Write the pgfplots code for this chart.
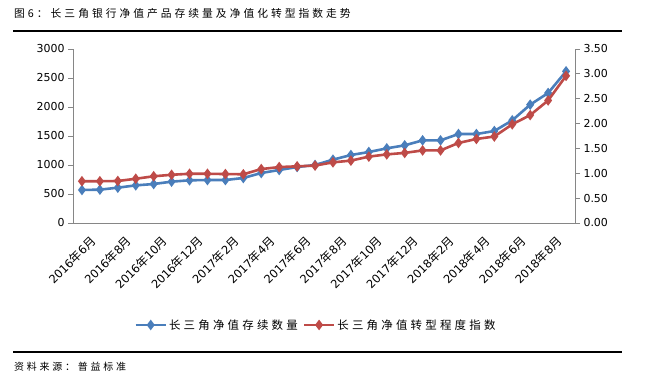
\documentclass[border=0pt]{standalone}
\usepackage{fontspec}
\setmainfont{DejaVu Sans}
\newfontfamily\cjk{Noto Sans CJK SC}
\newfontfamily\cjks[LetterSpace=28]{Noto Sans CJK SC}
\usepackage{pgfplots}
\pgfplotsset{compat=1.18}
\definecolor{sblue}{HTML}{4A7EBB}
\definecolor{sred}{HTML}{BE4B48}
\definecolor{axgray}{HTML}{868686}
\newcommand{\xl}[2]{#1{\cjk\fontsize{12}{13}\selectfont 年}#2{\cjk\fontsize{12}{13}\selectfont 月}}
\begin{document}
\begin{tikzpicture}[x=1bp,y=1bp]
\path[use as bounding box] (0,0) rectangle (647,383);
\node[anchor=west,inner sep=0] at (14,370) {\fontsize{10.8}{12}\selectfont\cjks 图6：长三角银行净值产品存续量及净值化转型指数走势};
\draw[line width=1.3bp] (13,352) -- (622,352);
\draw[line width=1.3bp] (13,31) -- (622,31);
\node[anchor=west,inner sep=0] at (14,16) {\fontsize{10}{12}\selectfont\cjks 资料来源：普益标准};
\begin{axis}[
  at={(73bp,160bp)}, anchor=south west, scale only axis,
  width=502bp, height=174bp,
  xmin=-0.5, xmax=27.5, ymin=0, ymax=3000,
  ytick={0,500,...,3000},
  axis x line*=bottom, axis y line*=left,
  axis line style={axgray, line width=0.9bp, -},
  tick style={axgray, line width=0.9bp},
  tick align=outside, major tick length=5bp,
  xtick={0,2,...,26},
  xticklabels={\xl{2016}{6},\xl{2016}{8},\xl{2016}{10},\xl{2016}{12},\xl{2017}{2},\xl{2017}{4},\xl{2017}{6},\xl{2017}{8},\xl{2017}{10},\xl{2017}{12},\xl{2018}{2},\xl{2018}{4},\xl{2018}{6},\xl{2018}{8}},
  x tick style={draw=none},
  extra x ticks={-0.5,1.5,...,27.5},
  extra x tick labels={},
  extra x tick style={tick style={axgray, line width=0.9bp}, major tick length=5bp},
  xticklabel style={rotate=45, anchor=north east, font=\fontsize{11.5}{12}\selectfont, inner sep=1bp, yshift=-9bp, xshift=1.5bp},
  yticklabel style={font=\fontsize{11}{12}\selectfont},
  /pgf/number format/assume math mode=true,
  /pgf/number format/set thousands separator={},
  legend style={at={(0.484,-0.586)}, anchor=center, draw=none, fill=none,
    legend columns=2, font=\fontsize{11.5}{12}\selectfont\cjks,
    /tikz/every even column/.append style={column sep=3bp},
    inner xsep=0pt},
  legend image code/.code={\draw[#1, mark repeat=2, mark phase=2] plot coordinates {(0bp,0bp) (15bp,0bp) (30bp,0bp)};},
]
\addplot[sblue, line width=2.6bp, mark=diamond*, mark size=3.2bp, mark options={solid}] coordinates {
(0,569)(1,575)(2,609)(3,649)(4,672)(5,713)(6,736)(7,741)(8,741)(9,776)(10,862)(11,914)(12,965)(13,1000)(14,1092)(15,1172)(16,1224)(17,1287)(18,1339)(19,1425)(20,1425)(21,1534)(22,1534)(23,1586)(24,1770)(25,2040)(26,2241)(27,2615)};
\addlegendentry{长三角净值存续数量}
\addlegendimage{sred, line width=2.6bp, mark=diamond*, mark size=3.2bp}
\addlegendentry{长三角净值转型程度指数}
\end{axis}
\begin{axis}[
  at={(73bp,160bp)}, anchor=south west, scale only axis,
  width=502bp, height=174bp,
  xmin=-0.5, xmax=27.5, ymin=0, ymax=3.5,
  ytick={0,0.5,...,3.5},
  axis x line=none, axis y line*=right,
  axis line style={axgray, line width=0.9bp, -},
  tick style={axgray, line width=0.9bp},
  tick align=outside, major tick length=5bp,
  yticklabel style={font=\fontsize{11}{12}\selectfont},
  /pgf/number format/assume math mode=true,
  /pgf/number format/.cd, fixed, fixed zerofill, precision=2,
]
\addplot[sred, line width=2.6bp, mark=diamond*, mark size=3.2bp, mark options={solid}] coordinates {
(0,0.84)(1,0.84)(2,0.845)(3,0.89)(4,0.94)(5,0.97)(6,0.99)(7,0.99)(8,0.985)(9,0.98)(10,1.085)(11,1.125)(12,1.14)(13,1.155)(14,1.22)(15,1.255)(16,1.335)(17,1.38)(18,1.41)(19,1.46)(20,1.46)(21,1.61)(22,1.69)(23,1.74)(24,1.985)(25,2.17)(26,2.465)(27,2.96)};
\end{axis}
\end{tikzpicture}
\end{document}
